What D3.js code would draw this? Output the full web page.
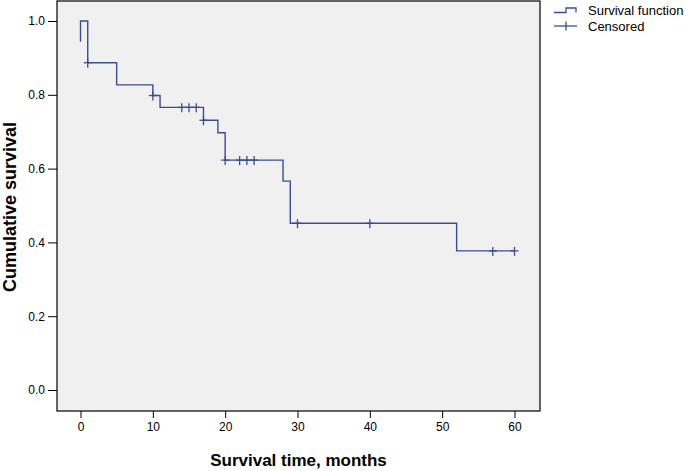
<!DOCTYPE html>
<html>
<head>
<meta charset="utf-8">
<script src="https://cdn.jsdelivr.net/npm/d3@7"></script>
<style>
  html, body { margin: 0; padding: 0; background: #ffffff; }
  svg { display: block; font-family: "Liberation Sans", Arial, Helvetica, sans-serif; }
</style>
</head>
<body>
<svg id="chart" width="685" height="471"></svg>
<script>
// ---- data ----
const stepTimes    = [0, 0, 1, 5, 10, 11, 17, 19, 20, 28, 29, 52, 60];
const stepSurvival = [0.944, 1.0, 0.887, 0.827, 0.798, 0.766, 0.731, 0.697, 0.623, 0.566, 0.452, 0.377, 0.377];
const censoredTimes = [1, 10, 14, 15, 16, 17, 20, 22, 23, 24, 30, 40, 57, 60];
const xTicks = [0, 10, 20, 30, 40, 50, 60];
const yTicks = [0.0, 0.2, 0.4, 0.6, 0.8, 1.0];
const legendLabels = ["Survival function", "Censored"];
const xTitle = "Survival time, months";
const yTitle = "Cumulative survival";

// ---- layout ----
const svg = d3.select("#chart");
const frame = { left: 57, top: 1, right: 540, bottom: 411 };
const lineColor = "#3a4e8f";

const x = d3.scaleLinear().domain([0, 60]).range([80.5, 514.5]);
const y = d3.scaleLinear().domain([0, 1]).range([390, 21]);

// plot background
svg.append("rect")
  .attr("x", frame.left).attr("y", frame.top)
  .attr("width", frame.right - frame.left).attr("height", frame.bottom - frame.top)
  .attr("fill", "#f0f0f0").attr("stroke", "#000").attr("stroke-width", 1.2);

// y axis
const yAxis = d3.axisLeft(y).tickValues(yTicks).tickFormat(d3.format(".1f")).tickSize(9).tickPadding(3);
const gy = svg.append("g").attr("transform", `translate(${frame.left},0)`).call(yAxis);
gy.select(".domain").remove();
gy.selectAll(".tick line").attr("stroke", "#000").attr("stroke-width", 1);
gy.selectAll(".tick text").attr("font-size", 12).attr("fill", "#000")
  .attr("font-family", "'Liberation Sans', Arial, sans-serif");

// x axis
const xAxis = d3.axisBottom(x).tickValues(xTicks).tickFormat(d3.format("d")).tickSize(7).tickPadding(4);
const gx = svg.append("g").attr("transform", `translate(0,${frame.bottom})`).call(xAxis);
gx.select(".domain").remove();
gx.selectAll(".tick line").attr("stroke", "#000").attr("stroke-width", 1);
gx.selectAll(".tick text").attr("font-size", 12).attr("fill", "#000")
  .attr("font-family", "'Liberation Sans', Arial, sans-serif");

// survival step curve
const pts = stepTimes.map((t, i) => [t, stepSurvival[i]]);
const line = d3.line().x(d => x(d[0])).y(d => y(d[1])).curve(d3.curveStepAfter);
svg.append("path").datum(pts)
  .attr("d", line).attr("fill", "none")
  .attr("stroke", lineColor).attr("stroke-width", 1.4);

// survival value at time t (after drops at t)
function survAt(t) {
  let s = stepSurvival[0];
  for (let i = 0; i < stepTimes.length; i++) if (stepTimes[i] <= t) s = stepSurvival[i];
  return s;
}

// censored marks (+)
const cg = svg.append("g").attr("stroke", lineColor).attr("stroke-width", 1.3);
censoredTimes.forEach(t => {
  const cx = x(t), cy = y(survAt(t));
  cg.append("line").attr("x1", cx - 4).attr("x2", cx + 4).attr("y1", cy).attr("y2", cy);
  cg.append("line").attr("x1", cx).attr("x2", cx).attr("y1", cy - 4).attr("y2", cy + 5);
});

// legend
const lg = svg.append("g");
lg.append("path")
  .attr("d", "M554,12.5H566V8H576V12.5")
  .attr("fill", "none").attr("stroke", lineColor).attr("stroke-width", 1.3);
lg.append("line").attr("x1", 554).attr("x2", 577).attr("y1", 26).attr("y2", 26)
  .attr("stroke", lineColor).attr("stroke-width", 1.3);
lg.append("line").attr("x1", 566).attr("x2", 566).attr("y1", 21.5).attr("y2", 30.5)
  .attr("stroke", lineColor).attr("stroke-width", 1.3);
lg.selectAll("text.leg").data(legendLabels).enter().append("text")
  .attr("class", "leg")
  .attr("x", 588).attr("y", (d, i) => 15 + i * 15.5)
  .attr("font-size", 13).attr("fill", "#000")
  .text(d => d);

// axis titles
svg.append("text")
  .attr("x", (frame.left + frame.right) / 2).attr("y", 466)
  .attr("text-anchor", "middle").attr("font-size", 17).attr("font-weight", "bold")
  .attr("fill", "#000").text(xTitle);

svg.append("text")
  .attr("transform", `translate(16,${207}) rotate(-90)`)
  .attr("text-anchor", "middle").attr("font-size", 18).attr("font-weight", "bold")
  .attr("fill", "#000").text(yTitle);
</script>
</body>
</html>
